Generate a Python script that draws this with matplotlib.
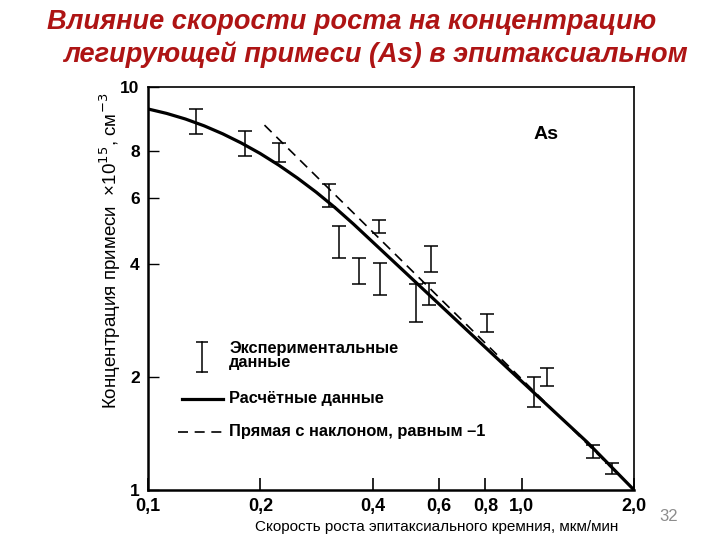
import numpy as np
import matplotlib

matplotlib.use("Agg")
import matplotlib.pyplot as plt
from matplotlib.ticker import NullLocator, FixedLocator, FixedFormatter

plt.rcParams.update({"font.family": ["Liberation Sans", "DejaVu Sans"]})

TITLE_RED = "#AE1414"

# --- data ---
# computed curve (solid)
calc_x = [0.1, 0.1122, 0.1259, 0.1413, 0.1585, 0.1778, 0.1995, 0.2239, 0.2512,
          0.2818, 0.3162, 0.3548, 0.5, 0.8, 1.0, 1.5, 2.0]
calc_y = [10.38, 10.10, 9.76, 9.36, 8.91, 8.42, 7.90, 7.35, 6.79,
          6.23, 5.67, 5.12, 3.72, 2.40, 1.95, 1.34, 1.0]

# straight line of slope -1 (dashed)
line_x = [0.205, 2.0]
line_y = [9.4, 1.0]

# experimental data: x, lower and upper ends of each bar
exp_x = [0.134, 0.182, 0.224, 0.305, 0.325, 0.367, 0.415, 0.417, 0.522, 0.565, 0.573, 0.809, 1.08, 1.17, 1.55, 1.75]
exp_lo = [8.90, 7.78, 7.49, 5.68, 4.16, 3.54, 4.85, 3.31, 2.81, 3.11, 3.81, 2.64, 1.66, 1.89, 1.22, 1.10]
exp_hi = [10.39, 9.06, 8.42, 6.55, 5.06, 4.16, 5.25, 4.03, 3.54, 3.56, 4.47, 2.95, 2.00, 2.12, 1.32, 1.18]

x_ticks = [0.1, 0.2, 0.4, 0.6, 0.8, 1.0, 2.0]
x_labels = ["0,1", "0,2", "0,4", "0,6", "0,8", "1,0", "2,0"]
y_top = 11.88
y_ticks = [1, 2, 4, 6, 8, y_top]
y_labels = ["1", "2", "4", "6", "8", "10"]

fig = plt.figure(figsize=(7.2, 5.4), dpi=100)
ax = fig.add_axes([0.2056, 0.0926, 0.675, 0.7463])
ax.set_xscale("log")
ax.set_yscale("log")
ax.set_xlim(0.1, 2.0)
ax.set_ylim(1, y_top)

ax.plot(calc_x, calc_y, color="black", lw=2.3, solid_joinstyle="round", zorder=3)
ax.plot(line_x, line_y, color="black", lw=1.2, dashes=(6, 4), zorder=3)

exp_x = np.array(exp_x)
exp_lo = np.array(exp_lo)
exp_hi = np.array(exp_hi)
mid = np.sqrt(exp_lo * exp_hi)
ax.errorbar(exp_x, mid, yerr=[mid - exp_lo, exp_hi - mid], fmt="none",
            ecolor="black", elinewidth=1.1, capsize=5, capthick=1.1, zorder=4)

# axes styling
for s in ["left", "bottom"]:
    ax.spines[s].set_linewidth(1.8)
for s in ["top", "right"]:
    ax.spines[s].set_linewidth(1.2)

ax.xaxis.set_major_locator(FixedLocator(x_ticks))
ax.xaxis.set_major_formatter(FixedFormatter(x_labels))
ax.xaxis.set_minor_locator(NullLocator())
ax.yaxis.set_major_locator(FixedLocator(y_ticks))
ax.yaxis.set_major_formatter(FixedFormatter(y_labels))
ax.yaxis.set_minor_locator(NullLocator())
ax.tick_params(axis="x", direction="in", length=9, width=1.2, pad=6, labelsize=13)
ax.tick_params(axis="y", direction="in", length=8, width=1.0, pad=6, labelsize=12.5)
for lab in ax.get_xticklabels() + ax.get_yticklabels():
    lab.set_fontweight("bold")

# manual legend
t = ax.transAxes
ax.plot([0.111, 0.111], [0.293, 0.367], color="black", lw=1.1, marker="_",
        markersize=8, mew=1.1, transform=t)
ax.text(0.167, 0.333, "Экспериментальные\nданные", transform=t, fontsize=11.8,
        fontweight="bold", va="center", ha="left", linespacing=0.95)
ax.plot([0.070, 0.154], [0.226, 0.226], color="black", lw=2.3, transform=t)
ax.text(0.167, 0.226, "Расчётные данные", transform=t, fontsize=11.8,
        fontweight="bold", va="center", ha="left")
ax.plot([0.062, 0.152], [0.144, 0.144], color="black", lw=1.2, dashes=(6, 4), transform=t)
ax.text(0.167, 0.144, "Прямая с наклоном, равным –1", transform=t, fontsize=11.8,
        fontweight="bold", va="center", ha="left")

ax.text(0.819, 0.881, "As", transform=t, fontsize=14, fontweight="bold",
        ha="center", va="center")

# axis labels
fig.text(0.153, 0.535, "Концентрация примеси  ×10$^{15}$, см$^{-3}$", rotation=90,
         ha="center", va="center", fontsize=13.5)
fig.text(0.606, 0.024, "Скорость роста эпитаксиального кремния, мкм/мин",
         ha="center", va="center", fontsize=11)

# slide title
fig.text(0.489, 0.959, "Влияние скорости роста на концентрацию", ha="center",
         va="center", fontsize=19.5, fontweight="bold", style="italic", color=TITLE_RED)
fig.text(0.521, 0.898, "легирующей примеси (As) в эпитаксиальном", ha="center",
         va="center", fontsize=19.5, fontweight="bold", style="italic", color=TITLE_RED)

fig.text(0.928, 0.044, "32", ha="center", va="center", fontsize=12, color="#8C8C8C")

fig.savefig("out.png", dpi=100)
plt.close(fig)
